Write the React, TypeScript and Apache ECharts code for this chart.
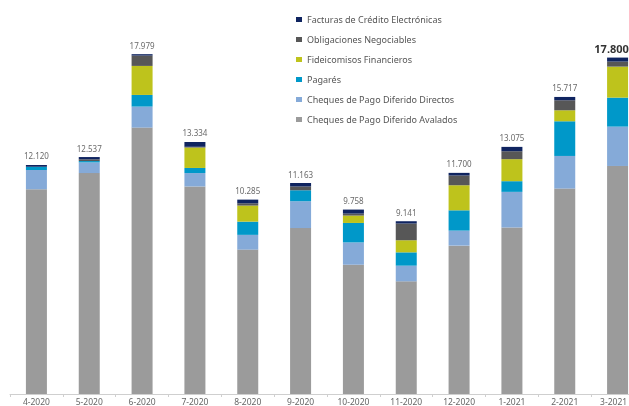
import React, { useEffect, useRef } from "react";
import * as echarts from "echarts";

const categories = ["4-2020", "5-2020", "6-2020", "7-2020", "8-2020", "9-2020", "10-2020", "11-2020", "12-2020", "1-2021", "2-2021", "3-2021"];

const avalados = [10830, 11690, 14096, 10980, 7640, 8780, 6840, 5960, 7850, 8810, 10870, 12065];
const directos = [1020, 565, 1111, 710, 780, 1420, 1180, 830, 795, 1885, 1725, 2082];
const pagares = [180, 70, 617, 270, 700, 580, 1030, 705, 1075, 565, 1835, 1535];
const fideicomisos = [0, 0, 1535, 1080, 850, 0, 390, 640, 1325, 1165, 582, 1641];
const obligaciones = [0, 92, 547, 40, 120, 200, 105, 884, 514, 420, 529, 265];
const facturas = [90, 120, 74, 254, 195, 183, 213, 122, 141, 230, 176, 212];
const totals = [12120, 12537, 17979, 13334, 10285, 11163, 9758, 9141, 11700, 13075, 15717, 17800];

const seriesDefs = [
  { name: "Cheques de Pago Diferido Avalados", data: avalados, color: "#9b9b9b" },
  { name: "Cheques de Pago Diferido Directos", data: directos, color: "#85aad8" },
  { name: "Pagarés", data: pagares, color: "#0098c9" },
  { name: "Fideicomisos Financieros", data: fideicomisos, color: "#bec31c" },
  { name: "Obligaciones Negociables", data: obligaciones, color: "#575757" },
  { name: "Facturas de Crédito Electrónicas", data: facturas, color: "#0f2460" },
];

const fmt = (v: number) => v.toLocaleString("de-DE");

export default function App() {
  const ref = useRef<HTMLDivElement>(null);
  useEffect(() => {
    if (!ref.current) return;
    const chart = echarts.init(ref.current, undefined, { renderer: "svg" });
    const font = "Noto Sans";
    const bars: any[] = seriesDefs.map((s) => ({
      name: s.name,
      type: "bar",
      stack: "total",
      data: s.data,
      barWidth: 21,
      itemStyle: { color: s.color },
      emphasis: { disabled: true },
    }));
    bars.push({
      name: "Total",
      type: "bar",
      stack: "total",
      barWidth: 21,
      data: totals.map((t, i) =>
        i === totals.length - 1
          ? { value: 0, label: { fontWeight: "bold", fontSize: 11, color: "#333", distance: 4, offset: [-6, 0] } }
          : { value: 0 }
      ),
      itemStyle: { color: "transparent" },
      label: {
        show: true,
        position: "top",
        distance: 5,
        fontFamily: font,
        fontSize: 8,
        color: "#6a6a6a",
        formatter: (p: any) => fmt(totals[p.dataIndex]),
      },
      silent: true,
    });
    chart.setOption({
      animation: false,
      legend: {
        data: seriesDefs.slice().reverse().map((s) => s.name),
        orient: "vertical",
        left: 291,
        top: 9,
        itemWidth: 6,
        itemHeight: 5,
        itemGap: 9,
        icon: "rect",
        textStyle: { fontFamily: font, fontSize: 9, color: "#555", lineHeight: 11 },
        selectedMode: false,
      },
      grid: { left: 10, right: 0, top: 16, bottom: 12, containLabel: false },
      xAxis: {
        type: "category",
        data: categories,
        axisLine: { lineStyle: { color: "#cfcfcf" } },
        axisTick: { show: true, length: 3, lineStyle: { color: "#cfcfcf" } },
        axisLabel: {
          interval: 0,
          hideOverlap: false,
          fontFamily: font,
          fontSize: 8.5,
          lineHeight: 9,
          color: "#666",
          margin: 3,
          formatter: (v: string) =>
            v === categories[categories.length - 1] ? "{last|" + v + "}" : v,
          rich: {
            last: { fontFamily: font, fontSize: 8.5, lineHeight: 9, color: "#666", padding: [0, 8, 0, 0] },
          },
        },
      },
      yAxis: {
        type: "value",
        min: 0,
        max: 20000,
        show: false,
        splitLine: { show: false },
      },
      series: bars,
    });
    return () => chart.dispose();
  }, []);
  return (
    <div
      ref={ref}
      style={{ position: "fixed", left: 0, top: 0, width: 644, height: 406 }}
    />
  );
}
